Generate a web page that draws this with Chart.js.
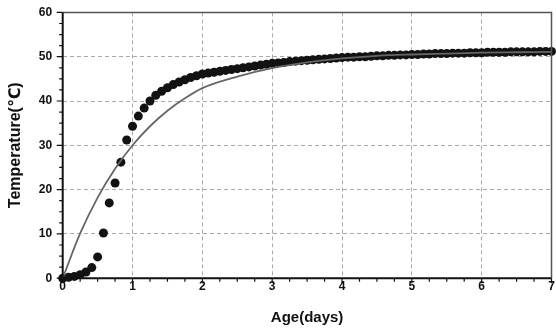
<!DOCTYPE html>
<html>
<head>
<meta charset="utf-8">
<script src="https://cdn.jsdelivr.net/npm/chart.js@4/dist/chart.umd.min.js"></script>
<style>
  body { margin: 0; background: #fff; }
  #wrap { width: 556px; height: 334px; }
</style>
</head>
<body>
<div id="wrap"><canvas id="tempChart"></canvas></div>
<script>
// measured temperatures, one reading every 2 hours from age 0 to 7 days
var sampleHours = 2;
var measuredTemps = [
  0.0, 0.2, 0.4, 0.8, 1.4, 2.4, 4.8, 10.2, 17.0, 21.5,
  26.2, 31.2, 34.3, 36.6, 38.4, 40.0, 41.3, 42.2, 43.0, 43.7,
  44.3, 44.8, 45.3, 45.7, 46.1, 46.3, 46.5, 46.7, 46.9, 47.1,
  47.3, 47.5, 47.7, 47.9, 48.1, 48.3, 48.5, 48.6, 48.7, 48.9,
  49.0, 49.1, 49.2, 49.3, 49.4, 49.5, 49.6, 49.7, 49.8, 49.9,
  49.9, 50.0, 50.0, 50.1, 50.2, 50.2, 50.3, 50.3, 50.4, 50.4,
  50.5, 50.5, 50.6, 50.6, 50.7, 50.7, 50.7, 50.8, 50.8, 50.8,
  50.9, 50.9, 50.9, 51.0, 51.0, 51.0, 51.0, 51.1, 51.1, 51.1,
  51.1, 51.1, 51.2, 51.2, 51.2
];

// fitted curve
var fitAges  = [0, 0.25, 0.5, 0.75, 1, 1.25, 1.5, 1.75, 2, 2.5, 3, 3.5, 4, 4.5, 5, 5.5, 6, 6.5, 7];
var fitTemps = [0, 10.1, 18.2, 24.7, 30.0, 34.3, 37.8, 40.6, 42.9, 45.5, 47.4, 48.7, 49.6, 50.2, 50.5, 50.7, 50.9, 51.0, 51.1];

var xTicks = [0, 1, 2, 3, 4, 5, 6, 7];
var yTicks = [0, 10, 20, 30, 40, 50, 60];

var dots = measuredTemps.map(function(t, i) { return {x: i * sampleHours / 24, y: t}; });
var fitLine = fitAges.map(function(a, i) { return {x: a, y: fitTemps[i]}; });

var fontFamily = '"Liberation Sans", Arial, "DejaVu Sans", sans-serif';

// frame + major/minor tick marks, drawn outward like the original
var framePlugin = {
  id: 'frame',
  afterDraw: function(chart) {
    var ctx = chart.ctx;
    var a = chart.chartArea;
    var xs = chart.scales.x, ys = chart.scales.y;
    ctx.save();
    ctx.setLineDash([]);
    ctx.strokeStyle = '#111';
    ctx.lineWidth = 1.2;
    ctx.beginPath();
    for (var v = 0; v <= 7.001; v += 0.25) {
      var px = xs.getPixelForValue(v);
      var len = Math.abs(v - Math.round(v)) < 0.01 ? 5 : 3.5;
      ctx.moveTo(px, a.bottom);
      ctx.lineTo(px, a.bottom + len);
    }
    for (var w = 0; w <= 60.001; w += 2.5) {
      var py = ys.getPixelForValue(w);
      var len2 = w % 10 === 0 ? 6 : 3.5;
      ctx.moveTo(a.left, py);
      ctx.lineTo(a.left - len2, py);
    }
    ctx.stroke();

    ctx.strokeStyle = '#555';
    ctx.lineWidth = 1.5;
    ctx.beginPath();
    ctx.moveTo(a.left, a.top);
    ctx.lineTo(a.right, a.top);
    ctx.lineTo(a.right, a.bottom);
    ctx.stroke();

    ctx.strokeStyle = '#111';
    ctx.lineWidth = 2;
    ctx.beginPath();
    ctx.moveTo(a.left, a.top);
    ctx.lineTo(a.left, a.bottom);
    ctx.lineTo(a.right, a.bottom);
    ctx.stroke();
    ctx.restore();
  }
};

function noEdgePadding(s) {
  s.paddingTop = 0; s.paddingBottom = 0; s.paddingLeft = 0; s.paddingRight = 0;
}

var ctx = document.getElementById('tempChart').getContext('2d');
var chart = new Chart(ctx, {
  type: 'scatter',
  data: {
    datasets: [{
      label: 'fit',
      data: fitLine,
      showLine: true,
      borderColor: '#666',
      borderWidth: 1.8,
      pointRadius: 0,
      cubicInterpolationMode: 'monotone',
      clip: false
    }, {
      label: 'measured',
      data: dots,
      pointRadius: 4.5,
      pointBackgroundColor: '#121212',
      pointBorderWidth: 0,
      clip: false
    }]
  },
  plugins: [framePlugin],
  options: {
    responsive: true,
    maintainAspectRatio: false,
    devicePixelRatio: 1,
    animation: false,
    layout: { padding: { top: 12.4, right: 2.7, left: 0, bottom: 0 } },
    plugins: { legend: { display: false }, tooltip: { enabled: false } },
    scales: {
      x: {
        type: 'linear',
        min: 0, max: 7,
        afterFit: function(s) { s.height = 55.8; noEdgePadding(s); },
        afterBuildTicks: function(s) { s.ticks = xTicks.map(function(v) { return {value: v}; }); },
        grid: {
          drawTicks: false,
          color: function(c) { return (c.tick && c.tick.value > 0 && c.tick.value < 7) ? '#aaa' : 'rgba(0,0,0,0)'; },
          lineWidth: 1
        },
        border: { display: false, dash: [4, 3] },
        ticks: {
          padding: 1,
          maxRotation: 0,
          color: '#111',
          font: { family: fontFamily, size: 12, weight: 'bold' }
        },
        title: {
          display: true,
          text: 'Age(days)',
          color: '#111',
          padding: { top: 0, bottom: 7.5 },
          font: { family: fontFamily, size: 15, weight: 'bold' }
        }
      },
      y: {
        min: 0, max: 60,
        afterFit: function(s) { s.width = 62.7; noEdgePadding(s); },
        afterBuildTicks: function(s) { s.ticks = yTicks.map(function(v) { return {value: v}; }); },
        grid: {
          drawTicks: false,
          color: function(c) { return (c.tick && c.tick.value > 0 && c.tick.value < 60) ? '#aaa' : 'rgba(0,0,0,0)'; },
          lineWidth: 1
        },
        border: { display: false, dash: [4, 3] },
        ticks: {
          padding: 10.5,
          color: '#111',
          font: { family: fontFamily, size: 12, weight: 'bold' }
        },
        title: {
          display: true,
          text: 'Temperature(\u2103)',
          color: '#111',
          padding: { top: 6.4, bottom: 0 },
          font: { family: fontFamily, size: 16, weight: 'bold' }
        }
      }
    }
  }
});
</script>
</body>
</html>
